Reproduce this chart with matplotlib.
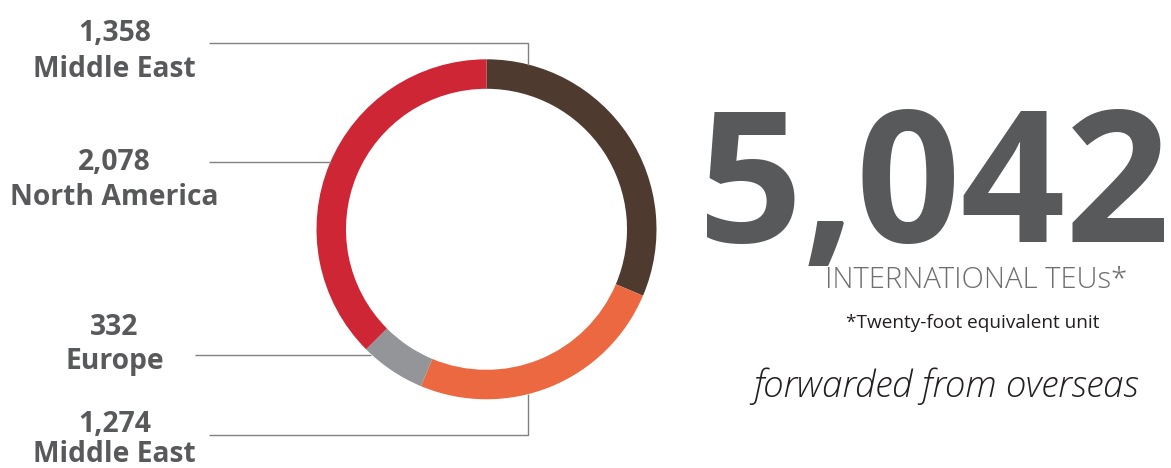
import matplotlib
matplotlib.use("Agg")
import matplotlib.pyplot as plt

# ---------------- data ----------------
regions = ["Middle East", "North America", "Europe", "Middle East"]
teu_values = [1358, 2078, 332, 1274]          # labelled values (text)
value_labels = ["1,358", "2,078", "332", "1,274"]
# ring segments clockwise from 12 o'clock, arc sizes as drawn in the reference (degrees)
ring_names = ["Middle East 1,358", "Middle East 1,274", "Europe", "North America"]
ring_arc_deg = [113.0, 89.7, 22.4, 134.9]
ring_colors = ["#4f3a2f", "#ec6841", "#939598", "#cf2636"]
total_label = "5,042"
subtitle = "INTERNATIONAL TEUs*"
footnote = "*Twenty-foot equivalent unit"
tagline = "forwarded from overseas"

# ---------------- figure ----------------
W, H = 1171, 468
fig = plt.figure(figsize=(W / 100, H / 100), dpi=100)
ax = fig.add_axes([0, 0, 1, 1])

def Y(y):
    return H - y

FAM = ["Open Sans", "DejaVu Sans"]
LABEL_COL = "#58595b"
LINE_COL = "#808080"

cx, cy, R, ring_w = 486.5, 229.3, 170.0, 29.5
ax.pie(ring_arc_deg, colors=ring_colors, startangle=90, counterclock=False,
       radius=R, center=(cx, Y(cy)),
       wedgeprops=dict(width=ring_w, edgecolor="none", linewidth=0))

# leader lines
lw = 1.0
ax.plot([209, 527.7, 527.7], [Y(42.7), Y(42.7), Y(64.5)], color=LINE_COL, lw=lw, solid_capstyle="butt")
ax.plot([209, 331], [Y(162), Y(162)], color=LINE_COL, lw=lw, solid_capstyle="butt")
ax.plot([195, 371], [Y(355), Y(355)], color=LINE_COL, lw=lw, solid_capstyle="butt")
ax.plot([209, 527.7, 527.7], [Y(435), Y(435), Y(394)], color=LINE_COL, lw=lw, solid_capstyle="butt")

# labels (value line, region line) baselines
label_x = 114.5
value_base = [41, 169.6, 335, 431.7]
name_base = [77, 205, 369.3, 461.5]
for v, name, yb1, yb2 in zip(value_labels, regions, value_base, name_base):
    ax.text(label_x, Y(yb1), v, ha="center", va="baseline", fontsize=20.3,
            fontweight="bold", color=LABEL_COL, family=FAM)
    ax.text(label_x, Y(yb2), name, ha="center", va="baseline", fontsize=20.3,
            fontweight="bold", color=LABEL_COL, family=FAM)

# right-hand block
ax.text(934, Y(242), total_label, ha="center", va="baseline", fontsize=132,
        fontweight="bold", color="#58595b", family=FAM)
ax.text(976, Y(288.3), subtitle, ha="center", va="baseline", fontsize=21,
        fontweight="light", color="#6d6e71", family=FAM)
ax.text(972.5, Y(328.3), footnote, ha="center", va="baseline", fontsize=13.7,
        color="#231f20", family=FAM)
ax.text(946, Y(397), tagline, ha="center", va="baseline", fontsize=26.5,
        fontstyle="italic", fontweight="light", color="#231f20", family=FAM)

ax.set_xlim(0, W)
ax.set_ylim(0, H)
ax.set_aspect("auto")
ax.axis("off")

fig.savefig("out.png", dpi=100, facecolor="white")
